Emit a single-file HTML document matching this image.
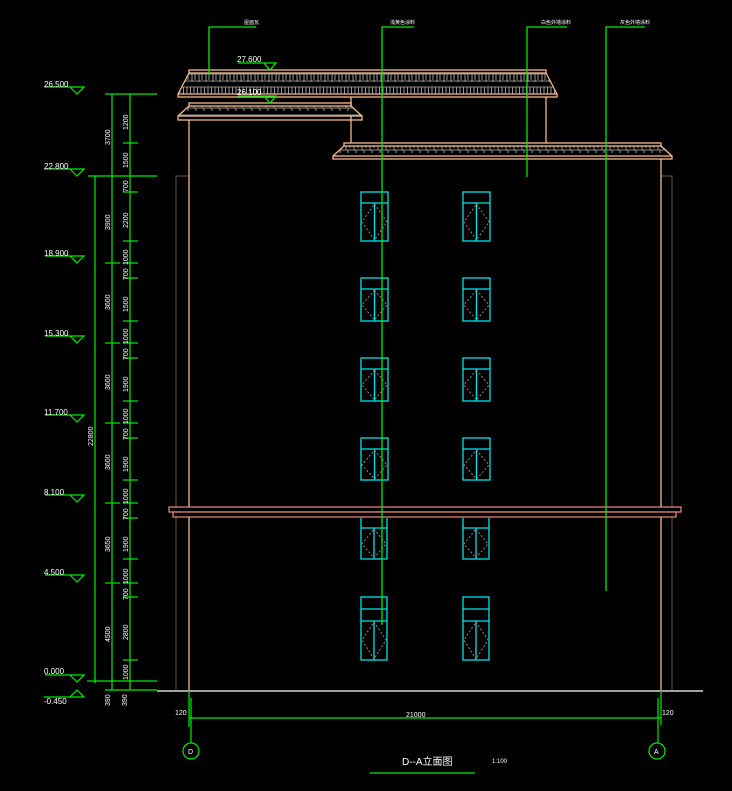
<!DOCTYPE html>
<html><head><meta charset="utf-8"><style>
html,body{margin:0;padding:0;background:#000;}
svg{display:block}
text{font-family:"Liberation Sans","Noto Sans CJK SC",sans-serif;fill:#fff;}
</style></head><body>
<svg width="732" height="791" viewBox="0 0 732 791" xmlns="http://www.w3.org/2000/svg">
<defs>
<pattern id="tile" x="0" y="0" width="7" height="21" patternUnits="userSpaceOnUse">
<rect width="7" height="21" fill="#000"/>
<line x1="0" y1="3" x2="7" y2="3" stroke="#888" stroke-width="1"/>
<line x1="0" y1="11" x2="7" y2="11" stroke="#888" stroke-width="1"/>
<line x1="0" y1="18" x2="7" y2="18" stroke="#888" stroke-width="1"/>
<line x1="1.5" y1="3" x2="1.5" y2="11" stroke="#999"/>
<line x1="5" y1="3" x2="5" y2="9" stroke="#999"/>
<line x1="3" y1="11" x2="3" y2="19" stroke="#999"/>
<line x1="6" y1="11" x2="6" y2="17" stroke="#999"/>
</pattern>
<pattern id="tile2" x="0" y="0" width="8" height="14" patternUnits="userSpaceOnUse">
<rect width="8" height="14" fill="#000"/>
<line x1="0" y1="3" x2="8" y2="3" stroke="#888"/>
<line x1="0" y1="10" x2="8" y2="10" stroke="#888"/>
<line x1="2" y1="3" x2="2" y2="10" stroke="#999"/>
<line x1="6" y1="3" x2="6" y2="8" stroke="#999"/>
<line x1="4" y1="10" x2="4" y2="13" stroke="#999"/>
</pattern>
</defs>
<rect width="732" height="791" fill="#000"/>

<!-- faint outer lines -->
<g stroke="#5a4632" stroke-width="1.2" fill="none">
<polyline points="189,176 176,176 176,690"/>
<polyline points="661,176 672,176 672,690"/>
</g>

<!-- walls -->
<g stroke="#f5b98a" stroke-width="1.3" fill="none">
<line x1="189" y1="120" x2="189" y2="690"/>
<line x1="661" y1="159" x2="661" y2="690"/>
<line x1="351" y1="97" x2="351" y2="143"/>
<line x1="546" y1="97" x2="546" y2="143"/>
</g>

<!-- top roof -->
<polygon points="189,73 546,73 557,94 178,94" fill="url(#tile)"/>
<g stroke="#f5b98a" stroke-width="1.3" fill="none">
<rect x="189" y="70" width="357" height="3"/>
<line x1="189" y1="73" x2="178" y2="94"/><line x1="546" y1="73" x2="557" y2="94"/>
<rect x="178" y="94" width="379" height="3"/>
</g>
<!-- second roof -->
<polygon points="189,106 351,106 362,116 178,116" fill="url(#tile2)"/>
<g stroke="#f5b98a" stroke-width="1.3" fill="none">
<rect x="189" y="103" width="162" height="3"/>
<line x1="189" y1="106" x2="178" y2="116"/><line x1="351" y1="106" x2="362" y2="116"/>
<rect x="178" y="116" width="184" height="4"/>
</g>
<!-- third roof -->
<polygon points="344,146 661,146 672,156 333,156" fill="url(#tile2)"/>
<g stroke="#f5b98a" stroke-width="1.3" fill="none">
<rect x="344" y="143" width="317" height="3"/>
<line x1="344" y1="146" x2="333" y2="156"/><line x1="661" y1="146" x2="672" y2="156"/>
<rect x="333" y="156" width="339" height="3"/>
</g>

<!-- band -->
<g stroke="#f08a80" stroke-width="1.2" fill="#000">
<rect x="169" y="507" width="512" height="5"/>
<rect x="173" y="512" width="503" height="5"/>
</g>

<!-- windows -->
<g stroke="#00e5ee" stroke-width="1.3" fill="none">
<rect x="361" y="192" width="27" height="49"/><line x1="361" y1="203" x2="388" y2="203"/><line x1="374.5" y1="203" x2="374.5" y2="241"/>
<rect x="463" y="192" width="27" height="49"/><line x1="463" y1="203" x2="490" y2="203"/><line x1="476.5" y1="203" x2="476.5" y2="241"/>
<rect x="361" y="278" width="27" height="43"/><line x1="361" y1="289" x2="388" y2="289"/><line x1="374.5" y1="289" x2="374.5" y2="321"/>
<rect x="463" y="278" width="27" height="43"/><line x1="463" y1="289" x2="490" y2="289"/><line x1="476.5" y1="289" x2="476.5" y2="321"/>
<rect x="361" y="358" width="27" height="43"/><line x1="361" y1="369" x2="388" y2="369"/><line x1="374.5" y1="369" x2="374.5" y2="401"/>
<rect x="463" y="358" width="27" height="43"/><line x1="463" y1="369" x2="490" y2="369"/><line x1="476.5" y1="369" x2="476.5" y2="401"/>
<rect x="361" y="438" width="27" height="42"/><line x1="361" y1="449" x2="388" y2="449"/><line x1="374.5" y1="449" x2="374.5" y2="480"/>
<rect x="463" y="438" width="27" height="42"/><line x1="463" y1="449" x2="490" y2="449"/><line x1="476.5" y1="449" x2="476.5" y2="480"/>
<polyline points="361,518 361,559 387,559 387,518"/><line x1="361" y1="528" x2="387" y2="528"/><line x1="374" y1="528" x2="374" y2="559"/>
<polyline points="463,518 463,559 489,559 489,518"/><line x1="463" y1="528" x2="489" y2="528"/><line x1="476" y1="528" x2="476" y2="559"/>
<rect x="361" y="597" width="26" height="63"/><line x1="361" y1="609" x2="387" y2="609"/><line x1="361" y1="621" x2="387" y2="621"/><line x1="374" y1="621" x2="374" y2="660"/>
<rect x="463" y="597" width="26" height="63"/><line x1="463" y1="609" x2="489" y2="609"/><line x1="463" y1="621" x2="489" y2="621"/><line x1="476" y1="621" x2="476" y2="660"/>
</g>
<g stroke="#888" stroke-width="1" fill="none" stroke-dasharray="2,2">
<polygon points="374.5,204 387,222 374.5,240 362,222"/><polygon points="476.5,204 489,222 476.5,240 464,222"/>
<polygon points="374.5,290 387,305 374.5,320 362,305"/><polygon points="476.5,290 489,305 476.5,320 464,305"/>
<polygon points="374.5,370 387,385 374.5,400 362,385"/><polygon points="476.5,370 489,385 476.5,400 464,385"/>
<polygon points="374.5,450 387,465 374.5,479 362,465"/><polygon points="476.5,450 489,465 476.5,479 464,465"/>
<polygon points="374,529 386,544 374,558 362,544"/><polygon points="476,529 488,544 476,558 464,544"/>
<polygon points="374,622 386,640 374,659 362,640"/><polygon points="476,622 488,640 476,659 464,640"/>
</g>

<!-- ground -->
<line x1="157" y1="691" x2="703" y2="691" stroke="#fff" stroke-width="1.3"/>

<!-- leaders -->
<g stroke="#00ee00" stroke-width="1.3" fill="none">
<polyline points="256,27 209,27 209,75"/>
<polyline points="414,27 382,27 382,624 381,624"/>
<polyline points="567,27 527,27 527,177"/>
<polyline points="645,27 606,27 606,591"/>
<!-- roof elevation marks -->
<polyline points="238,63 276,63 270,70 264,63"/>
<polyline points="238,96 276,96 270,103 264,96"/>
</g>
<g font-size="5" >
<text x="244" y="24">屋面瓦</text>
<text x="390" y="24">浅黄色涂料</text>
<text x="541" y="24">白色外墙涂料</text>
<text x="620" y="24">灰色外墙涂料</text>
</g>
<text x="237" y="62" font-size="8">27.600</text>
<text x="237" y="95" font-size="8">26.100</text>

<!-- left elevation marks -->
<g stroke="#00ee00" stroke-width="1.2" fill="none">
<polyline points="44,87 84,87 77,94 70,87"/>
<polyline points="44,169 84,169 77,176 70,169"/>
<polyline points="45,256 84,256 77,263 70,256"/>
<polyline points="45,336 84,336 77,343 70,336"/>
<polyline points="45,415 84,415 77,422 70,415"/>
<polyline points="45,495 84,495 77,502 70,495"/>
<polyline points="45,575 84,575 77,582 70,575"/>
<polyline points="45,675 84,675 77,682 70,675"/>
<polyline points="44,697 84,697 77,690 70,697"/>
</g>
<g font-size="8">
<text x="44" y="87">26.500</text>
<text x="44" y="169">22.800</text>
<text x="44" y="256">18.900</text>
<text x="44" y="336">15.300</text>
<text x="44" y="415">11.700</text>
<text x="44" y="495">8.100</text>
<text x="44" y="575">4.500</text>
<text x="44" y="674">0.000</text>
<text x="44" y="704">-0.450</text>
</g>

<!-- dimension lines -->
<g stroke="#00ee00" stroke-width="1.2" fill="none">
<line x1="95" y1="176" x2="95" y2="683"/>
<line x1="112" y1="94" x2="112" y2="690"/>
<line x1="130" y1="94" x2="130" y2="690"/>
<line x1="105" y1="94" x2="157" y2="94"/>
<line x1="88" y1="176" x2="157" y2="176"/>
<line x1="87" y1="681" x2="157" y2="681"/>
<line x1="105" y1="690" x2="157" y2="690"/>
<line x1="105" y1="263" x2="120" y2="263"/><line x1="105" y1="343" x2="120" y2="343"/>
<line x1="105" y1="423" x2="120" y2="423"/><line x1="105" y1="503" x2="120" y2="503"/>
<line x1="105" y1="583" x2="120" y2="583"/>
<g>
<line x1="123" y1="143" x2="138" y2="143"/><line x1="123" y1="192" x2="138" y2="192"/>
<line x1="123" y1="241" x2="138" y2="241"/><line x1="123" y1="263" x2="138" y2="263"/>
<line x1="123" y1="278" x2="138" y2="278"/><line x1="123" y1="321" x2="138" y2="321"/>
<line x1="123" y1="343" x2="138" y2="343"/><line x1="123" y1="358" x2="138" y2="358"/>
<line x1="123" y1="401" x2="138" y2="401"/><line x1="123" y1="423" x2="138" y2="423"/>
<line x1="123" y1="438" x2="138" y2="438"/><line x1="123" y1="480" x2="138" y2="480"/>
<line x1="123" y1="503" x2="138" y2="503"/><line x1="123" y1="518" x2="138" y2="518"/>
<line x1="123" y1="559" x2="138" y2="559"/><line x1="123" y1="583" x2="138" y2="583"/>
<line x1="123" y1="597" x2="138" y2="597"/><line x1="123" y1="660" x2="138" y2="660"/>
</g>
</g>
<g font-size="7">
<text transform="translate(110,145) rotate(-90)">3700</text>
<text transform="translate(110,230) rotate(-90)">3900</text>
<text transform="translate(110,310) rotate(-90)">3600</text>
<text transform="translate(110,390) rotate(-90)">3600</text>
<text transform="translate(110,470) rotate(-90)">3600</text>
<text transform="translate(110,552) rotate(-90)">3650</text>
<text transform="translate(110,642) rotate(-90)">4500</text>
<text transform="translate(93,446) rotate(-90)">22800</text>
<text transform="translate(110,706) rotate(-90)">390</text>
<text transform="translate(127,706) rotate(-90)">390</text>
<text transform="translate(128,130) rotate(-90)">1200</text>
<text transform="translate(128,168) rotate(-90)">1500</text>
<text transform="translate(128,192) rotate(-90)">700</text>
<text transform="translate(128,228) rotate(-90)">2200</text>
<text transform="translate(128,265) rotate(-90)">1000</text>
<text transform="translate(128,280) rotate(-90)">700</text>
<text transform="translate(128,312) rotate(-90)">1500</text>
<text transform="translate(128,344) rotate(-90)">1000</text>
<text transform="translate(128,360) rotate(-90)">700</text>
<text transform="translate(128,392) rotate(-90)">1900</text>
<text transform="translate(128,424) rotate(-90)">1000</text>
<text transform="translate(128,440) rotate(-90)">700</text>
<text transform="translate(128,472) rotate(-90)">1900</text>
<text transform="translate(128,504) rotate(-90)">1000</text>
<text transform="translate(128,520) rotate(-90)">700</text>
<text transform="translate(128,552) rotate(-90)">1900</text>
<text transform="translate(128,584) rotate(-90)">1000</text>
<text transform="translate(128,600) rotate(-90)">700</text>
<text transform="translate(128,640) rotate(-90)">2800</text>
<text transform="translate(128,680) rotate(-90)">1000</text>
</g>

<!-- bottom dims -->
<g stroke="#00ee00" stroke-width="1.2" fill="none">
<line x1="189" y1="691" x2="189" y2="727"/>
<line x1="191" y1="698" x2="191" y2="743"/>
<line x1="661" y1="691" x2="661" y2="725"/>
<line x1="658" y1="698" x2="658" y2="743"/>
<line x1="189" y1="718" x2="661" y2="718"/>
<circle cx="191" cy="751" r="8"/>
<circle cx="657" cy="751" r="8"/>
<line x1="370" y1="773" x2="475" y2="773"/>
</g>
<g font-size="7">
<text x="175" y="715">120</text>
<text x="662" y="715">120</text>
<text x="406" y="717">21000</text>
<text x="188" y="754">D</text>
<text x="654" y="754">A</text>
<text x="492" y="763" font-size="6">1:100</text>
</g>
<text x="402" y="765" font-size="10">D--A立面图</text>
</svg>
</body></html>
